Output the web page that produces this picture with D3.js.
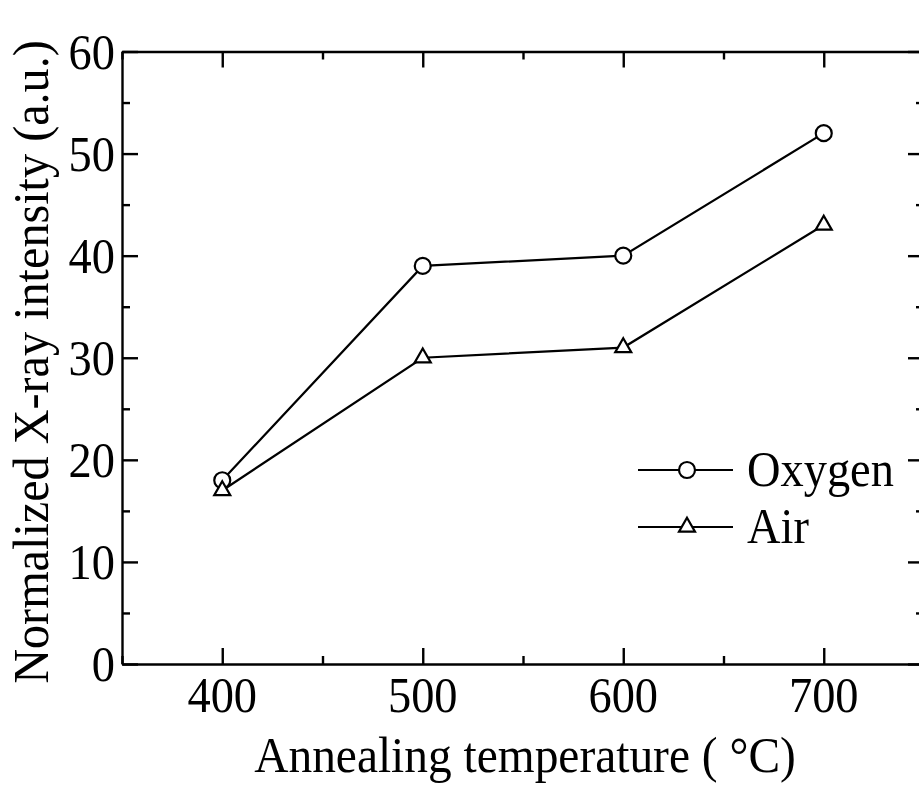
<!DOCTYPE html>
<html>
<head>
<meta charset="utf-8">
<script src="https://cdn.jsdelivr.net/npm/d3@7"></script>
<style>
  html, body { margin: 0; padding: 0; background: #fff; }
  svg { display: block; }
  text { font-family: "Liberation Serif", "Times New Roman", serif; fill: #000; }
</style>
</head>
<body>
<script>
// Annealing temperatures (°C) and normalized X-ray intensity per atmosphere
const temperatures = [400, 500, 600, 700];
const oxygenValues = [18, 39, 40, 52];
const airValues = [17, 30, 31, 43];
const seriesNames = ["Oxygen", "Air"];
const xTickValues = [400, 500, 600, 700];
const xMinorValues = [350, 450, 550, 650, 750];
const yTickValues = [0, 10, 20, 30, 40, 50, 60];
const yMinorValues = [5, 15, 25, 35, 45, 55];
const xTitle = "Annealing temperature ( \u00B0C)";
const yTitle = "Normalized X-ray intensity (a.u.)";

const W = 919, H = 788;
const margin = { left: 122, top: 51.5, right: 924, bottom: 664 };
const fontSize = 51;
const squeeze = 0.91;

const svg = d3.select("body").append("svg").attr("width", W).attr("height", H);

const x = d3.scaleLinear().domain([350, 750]).range([margin.left, margin.right]);
const y = d3.scaleLinear().domain([0, 60]).range([margin.bottom, margin.top]);

function styleAxis(g) {
  g.selectAll("path.domain").attr("stroke", "#000").attr("stroke-width", 2.4);
  g.selectAll(".tick line").attr("stroke", "#000").attr("stroke-width", 2.4);
  g.selectAll(".tick text").remove();
}

// Minor ticks (drawn first, without domain lines)
const minorLen = 8, majorLen = 16;
function minor(axis, tr, vals) {
  const g = svg.append("g").attr("transform", tr)
    .call(axis.tickValues(vals).tickSizeInner(-minorLen).tickSizeOuter(0).tickFormat(""));
  g.select("path.domain").remove();
  styleAxis(g);
}
minor(d3.axisBottom(x), `translate(0,${margin.bottom})`, xMinorValues);
minor(d3.axisTop(x), `translate(0,${margin.top})`, xMinorValues);
minor(d3.axisLeft(y), `translate(${margin.left},0)`, yMinorValues);
minor(d3.axisRight(y), `translate(${margin.right},0)`, yMinorValues);

// Major ticks and frame
function major(axis, tr, vals) {
  const g = svg.append("g").attr("transform", tr)
    .call(axis.tickValues(vals).tickSizeInner(-majorLen).tickSizeOuter(0).tickFormat(""));
  styleAxis(g);
}
major(d3.axisBottom(x), `translate(0,${margin.bottom})`, xTickValues);
major(d3.axisTop(x), `translate(0,${margin.top})`, xTickValues);
major(d3.axisLeft(y), `translate(${margin.left},0)`, yTickValues);
major(d3.axisRight(y), `translate(${margin.right},0)`, yTickValues);

// Text helper: narrow serif glyphs
function label(txt, px, py, anchor, rotate, sx) {
  const rot = rotate ? ` rotate(${rotate})` : "";
  return svg.append("text")
    .attr("transform", `translate(${px},${py})${rot} scale(${sx || squeeze},1)`)
    .attr("text-anchor", anchor)
    .attr("font-size", fontSize)
    .text(txt);
}

// Tick labels
yTickValues.forEach(v => label(String(v), margin.left - 7, y(v) + 17, "end"));
xTickValues.forEach(v => label(String(v), x(v), 712, "middle"));

// Axis titles
label(xTitle, (margin.left + margin.right) / 2 + 2, 772, "middle", 0, 0.93);
label(yTitle, 48, 362, "middle", -90, 0.945);

// Series lines and markers
const line = d3.line().x(d => x(d[0])).y(d => y(d[1]));
const oxy = temperatures.map((t, i) => [t, oxygenValues[i]]);
const air = temperatures.map((t, i) => [t, airValues[i]]);

const markerR = 8;
const triPath = (cx, cy) => {
  const s = 16, h = s * Math.sqrt(3) / 2;
  return `M${cx},${cy - h * 2 / 3}L${cx + s / 2},${cy + h / 3}L${cx - s / 2},${cy + h / 3}Z`;
};

[oxy, air].forEach(d => {
  svg.append("path").datum(d).attr("d", line)
    .attr("fill", "none").attr("stroke", "#000").attr("stroke-width", 2.2);
});

svg.append("g").selectAll("circle").data(oxy).join("circle")
  .attr("cx", d => x(d[0])).attr("cy", d => y(d[1])).attr("r", markerR)
  .attr("fill", "#fff").attr("stroke", "#000").attr("stroke-width", 2.2);

svg.append("g").selectAll("path").data(air).join("path")
  .attr("d", d => triPath(x(d[0]), y(d[1])))
  .attr("fill", "#fff").attr("stroke", "#000").attr("stroke-width", 2.2);

// Legend
const legend = svg.append("g");
const lx0 = 638, lx1 = 733, lm = 687, ly = [470, 527];
seriesNames.forEach((name, i) => {
  legend.append("line").attr("x1", lx0).attr("x2", lx1).attr("y1", ly[i]).attr("y2", ly[i])
    .attr("stroke", "#000").attr("stroke-width", 2.2);
  if (i === 0) {
    legend.append("circle").attr("cx", lm).attr("cy", ly[i]).attr("r", markerR)
      .attr("fill", "#fff").attr("stroke", "#000").attr("stroke-width", 2.2);
  } else {
    legend.append("path").attr("d", triPath(lm, ly[i]))
      .attr("fill", "#fff").attr("stroke", "#000").attr("stroke-width", 2.2);
  }
  label(name, 747, ly[i] + 16, "start");
});
</script>
</body>
</html>
